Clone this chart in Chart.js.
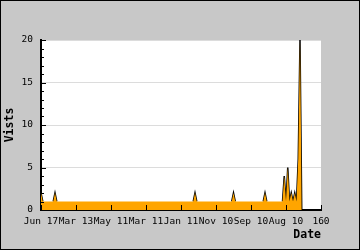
<!DOCTYPE html>
<html>
<head>
<meta charset="utf-8">
<script src="https://cdn.jsdelivr.net/npm/chart.js@4.4.1/dist/chart.umd.min.js"></script>
<style>
  html, body { margin: 0; padding: 0; background: #c8c8c8; }
  canvas { display: block; }
</style>
</head>
<body>
<canvas id="chart" width="360" height="250"></canvas>
<script>
const xTickLabels = ["Jun 17", "Mar 13", "May 11", "Mar 11", "Jan 11", "Nov 10", "Sep 10", "Aug 10", "160"];
const yTicks = [0, 5, 10, 15, 20];

// visits per sample, left (x = 0) to right
const visits = [
  2, 1, 1, 1, 1, 1, 1, 1, 2, 1,
  1, 1, 1, 1, 1, 1, 1, 1, 1, 1,
  1, 1, 1, 1, 1, 1, 1, 1, 1, 1,
  1, 1, 1, 1, 1, 1, 1, 1, 1, 1,
  1, 1, 1, 1, 1, 1, 1, 1, 1, 1,
  1, 1, 1, 1, 1, 1, 1, 1, 1, 1,
  1, 1, 1, 1, 1, 1, 1, 1, 1, 1,
  1, 1, 1, 1, 1, 1, 1, 1, 1, 1,
  1, 1, 1, 1, 1, 1, 1, 1, 2, 1,
  1, 1, 1, 1, 1, 1, 1, 1, 1, 1,
  1, 1, 1, 1, 1, 1, 1, 1, 1, 1,
  2, 1, 1, 1, 1, 1, 1, 1, 1, 1,
  1, 1, 1, 1, 1, 1, 1, 1, 2, 1,
  1, 1, 1, 1, 1, 1, 1, 1, 1, 4,
  1, 5, 1, 2, 1, 2, 1, 6, 20, 0
];

const points = visits.map((v, i) => ({ x: i, y: v }));

const mono = "'DejaVu Sans Mono', monospace";

const frame = {
  id: "frame",
  beforeDraw(chart) {
    const { ctx, chartArea: a, width, height } = chart;
    ctx.save();
    ctx.fillStyle = "#c8c8c8";
    ctx.fillRect(0, 0, width, height);
    ctx.fillStyle = "#ffffff";
    ctx.fillRect(a.left, a.top, a.right - a.left, a.bottom - a.top);
    ctx.restore();
  },
  afterDraw(chart) {
    const { ctx, width, height, scales } = chart;
    const xs = scales.x, ys = scales.y;
    ctx.save();
    ctx.strokeStyle = "#000";
    ctx.lineWidth = 1;
    ctx.beginPath();
    // minor / major ticks pointing into the plot
    for (let v = ys.min; v <= ys.max; v++) {
      const py = Math.round(ys.getPixelForValue(v)) + 0.5;
      const len = yTicks.includes(v) ? 5 : 3;
      ctx.moveTo(xs.left, py);
      ctx.lineTo(xs.left + len, py);
    }
    xs.ticks.forEach(t => {
      const px = Math.round(xs.getPixelForValue(t.value)) + 0.5;
      ctx.moveTo(px, ys.bottom);
      ctx.lineTo(px, ys.bottom - 5);
    });
    ctx.stroke();
    ctx.strokeRect(0.5, 0.5, width - 1, height - 1);
    ctx.restore();
  }
};

new Chart(document.getElementById("chart"), {
  type: "line",
  data: {
    datasets: [
      {
        data: points,
        order: 0,
        fill: "origin",
        backgroundColor: "#ffa500",
        borderColor: "rgba(0,0,0,0)",
        borderWidth: 1,
        pointRadius: 0,
        tension: 0
      },
      {
        data: points,
        order: 1,
        fill: false,
        borderColor: "#000000",
        borderWidth: 1.5,
        pointRadius: 0,
        tension: 0,
        // flat runs stay hidden under the fill, only slopes show a dark edge
        segment: {
          borderColor: c => c.p0.parsed.y === c.p1.parsed.y ? "rgba(0,0,0,0)" : "#000000"
        }
      }
    ]
  },
  options: {
    responsive: false,
    animation: false,
    layout: { padding: { top: 40, right: 39, left: 0, bottom: 0 } },
    plugins: { legend: { display: false }, tooltip: { enabled: false } },
    scales: {
      x: {
        type: "linear",
        min: 0,
        max: 160,
        afterFit(s) { s.height = 40; },
        ticks: {
          stepSize: 20,
          maxRotation: 0,
          autoSkip: false,
          padding: 6,
          color: "#000",
          font: { family: mono, size: 9.5 },
          callback: (v, i) => xTickLabels[i]
        },
        grid: { display: false, drawTicks: false },
        border: { display: true, color: "#000", width: 2 },
        title: {
          display: true,
          text: "Date",
          align: "end",
          color: "#000",
          font: { family: mono, size: 11.5, weight: "bold" },
          padding: { top: 0, bottom: 8 }
        }
      },
      y: {
        min: 0,
        max: 20,
        afterFit(s) { s.width = 41; },
        afterBuildTicks(s) { s.ticks = yTicks.map(v => ({ value: v })); },
        ticks: {
          padding: 8,
          color: "#000",
          font: { family: mono, size: 9.5 }
        },
        grid: { color: "#dcdcdc", lineWidth: 1, drawTicks: false },
        border: { display: true, color: "#000", width: 2 },
        title: {
          display: true,
          text: "Vists",
          color: "#000",
          font: { family: mono, size: 11.5, weight: "bold" },
          padding: { top: 3, bottom: 0 }
        }
      }
    }
  },
  plugins: [frame]
});
</script>
</body>
</html>
